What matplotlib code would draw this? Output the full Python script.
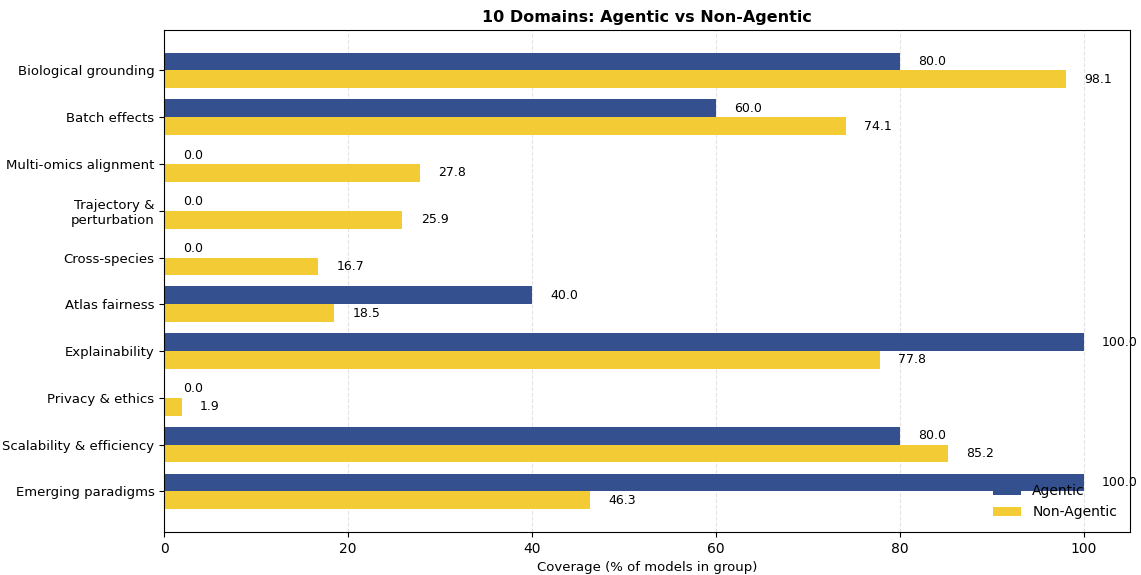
import matplotlib
matplotlib.use("Agg")
import matplotlib.pyplot as plt
import numpy as np

domains = ["Biological grounding", "Batch effects", "Multi-omics alignment",
           "Trajectory &\nperturbation", "Cross-species", "Atlas fairness",
           "Explainability", "Privacy & ethics", "Scalability & efficiency",
           "Emerging paradigms"]
agentic = [80.0, 60.0, 0.0, 0.0, 0.0, 40.0, 100.0, 0.0, 80.0, 100.0]
non_agentic = [98.1, 74.1, 27.8, 25.9, 16.7, 18.5, 77.8, 1.9, 85.2, 46.3]

fig, ax = plt.subplots(figsize=(11.41, 5.75), dpi=100)
y = np.arange(len(domains))
h = 0.38
ax.barh(y - h/2, agentic, height=h, color="#34508f", label="Agentic")
ax.barh(y + h/2, non_agentic, height=h, color="#f2cb35", label="Non-Agentic")
for yi, v in zip(y, agentic):
    ax.text(v + 2, yi - h/2, f"{v:.1f}", va="center", ha="left", fontsize=9)
for yi, v in zip(y, non_agentic):
    ax.text(v + 2, yi + h/2, f"{v:.1f}", va="center", ha="left", fontsize=9)
ax.set_yticks(y)
ax.set_yticklabels(domains, fontsize=9.5)
ax.invert_yaxis()
ax.set_xlim(0, 105)
ax.tick_params(axis="x", labelsize=10)
ax.set_xlabel("Coverage (% of models in group)", fontsize=9.5)
ax.set_title("10 Domains: Agentic vs Non-Agentic", fontsize=11.5, fontweight="bold")
ax.grid(axis="x", linestyle="--", alpha=0.35)
ax.set_axisbelow(True)
ax.legend(loc="lower right", frameon=False, fontsize=10)
fig.subplots_adjust(left=0.144, right=0.99, top=0.948, bottom=0.075)
fig.savefig("out.png", dpi=100)
